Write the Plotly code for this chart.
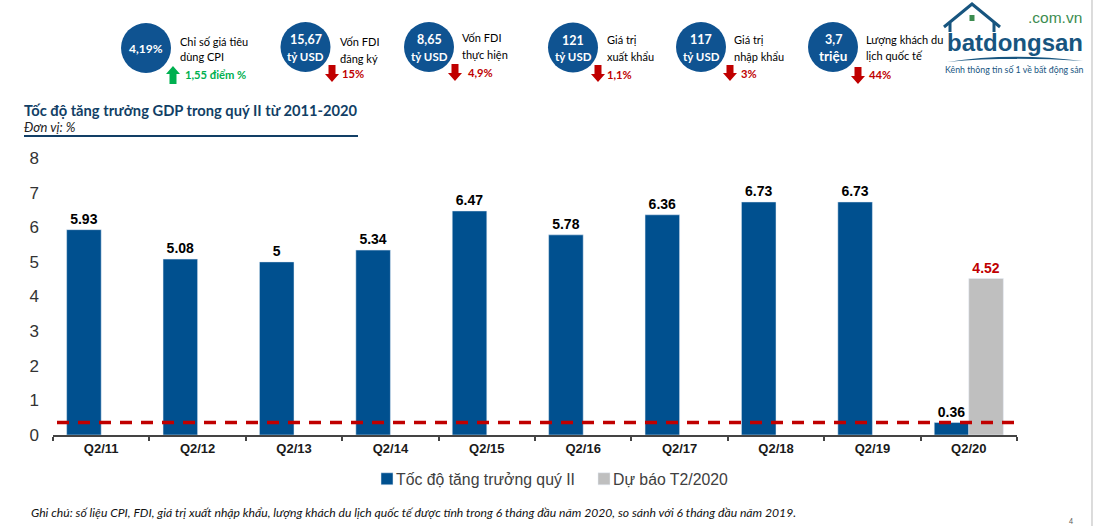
import plotly.graph_objects as go

W, H = 1094, 526
L, R, T, B = 53, 77, 158, 91

# ---- data ----
categories = ["Q2/11", "Q2/12", "Q2/13", "Q2/14", "Q2/15", "Q2/16", "Q2/17", "Q2/18", "Q2/19", "Q2/20"]
growth = [5.93, 5.08, 5, 5.34, 6.47, 5.78, 6.36, 6.73, 6.73, 0.36]
forecast = [None, None, None, None, None, None, None, None, None, 4.52]
reference_level = 0.36
series_names = ["Tốc độ tăng trưởng quý II", "Dự báo T2/2020"]

kpi_values = [["4,19%"], ["15,67", "tỷ USD"], ["8,65", "tỷ USD"], ["121", "tỷ USD"], ["117", "tỷ USD"], ["3,7", "triệu"]]
kpi_labels = [["Chỉ số giá tiêu", "dùng CPI"], ["Vốn FDI", "đăng ký"], ["Vốn FDI", "thực hiện"],
              ["Giá trị", "xuất khẩu"], ["Giá trị", "nhập khẩu"], ["Lượng khách du", "lịch quốc tế"]]
kpi_changes = ["1,55 điểm %", "15%", "4,9%", "1,1%", "3%", "44%"]
kpi_up = [True, False, False, False, False, False]

title_text = "Tốc độ tăng trưởng GDP trong quý II từ 2011-2020"
unit_text = "Đơn vị: %"
note_text = ("Ghi chú: số liệu CPI, FDI, giá trị xuất nhập khẩu, lượng khách du lịch quốc tế được tính "
             "trong 6 tháng đầu năm 2020, so sánh với 6 tháng đầu năm 2019.")

# ---- decorative layout (pixels) ----
circle_xy = [(146, 48), (305.5, 47), (429, 47), (573, 47.5), (701, 47), (833, 47)]
circle_r = 25
label_xy = [(180, 41, 57), (340, 41, 58), (462, 37, 54), (607, 39, 56), (734, 39, 57), (866, 40, 55)]
arrow_xy = [(173, 66, 84), (332, 65, 82), (455, 64, 81), (598, 65, 82), (730, 65, 81), (858, 67, 84)]
change_xy = [(185, 75), (342, 73), (468, 72), (607, 74), (741, 73), (869, 74)]

NAVY = "#0F5391"
BAR = "#00508F"
RED = "#C00000"
GREEN = "#00B050"
SANS = "Lato, 'Noto Sans', sans-serif"


def px(x):
    return (x - L) / (W - L - R)


def py(y):
    return 1 - (y - T) / (H - T - B)


shapes, ann = [], []


def text(x, y, s, size, color="#000000", anchor="left", family=SANS):
    if anchor == "left":
        x -= 2
    ann.append(dict(text=s, x=px(x), y=py(y), xref="paper", yref="paper", xanchor=anchor, yanchor="middle",
                    showarrow=False, font=dict(size=size, color=color, family=family)))


def path(d, fill=None, line=None, width=0):
    shapes.append(dict(type="path", path=d, xref="paper", yref="paper", layer="above",
                       fillcolor=fill if fill else "rgba(0,0,0,0)",
                       line=dict(color=line if line else "rgba(0,0,0,0)", width=width)))


def P(*pts):
    return "M" + " L".join(f"{px(a):.5f},{py(b):.5f}" for a, b in pts)


for i in range(6):
    cx, cy = circle_xy[i]
    shapes.append(dict(type="circle", xref="paper", yref="paper", x0=px(cx - circle_r), x1=px(cx + circle_r),
                       y0=py(cy + circle_r), y1=py(cy - circle_r), fillcolor=NAVY, line=dict(width=0)))
    lines = kpi_values[i]
    if len(lines) == 1:
        text(cx, cy, "<b>" + lines[0] + "</b>", 12, "#FFFFFF", "center")
    else:
        text(cx, cy - 7, "<b>" + lines[0] + "</b>", 12.5, "#FFFFFF", "center")
        text(cx, cy + 9, "<b>" + lines[1] + "</b>", 11.5 if "USD" in lines[1] else 13.5, "#FFFFFF", "center")
    lx, y1, y2 = label_xy[i]
    text(lx, y1, kpi_labels[i][0], 11)
    text(lx, y2, kpi_labels[i][1], 11)
    ax, top, bot = arrow_xy[i]
    colr = GREEN if kpi_up[i] else RED
    if kpi_up[i]:
        mid = top + 8
        path(P((ax, top), (ax + 7, mid), (ax + 3.5, mid), (ax + 3.5, bot), (ax - 3.5, bot), (ax - 3.5, mid), (ax - 7, mid)) + " Z", colr)
    else:
        mid = bot - 8
        path(P((ax, bot), (ax + 7, mid), (ax + 3.5, mid), (ax + 3.5, top), (ax - 3.5, top), (ax - 3.5, mid), (ax - 7, mid)) + " Z", colr)
    text(change_xy[i][0], change_xy[i][1], "<b>" + kpi_changes[i] + "</b>", 11.2, colr)

# heading block
text(24, 110, "<b>" + title_text + "</b>", 14.7, "#123F66")
text(24, 127, "<i>" + unit_text + "</i>", 13, "#222222")
path(P((24, 136), (358, 136)), None, "#123F66", 2)
text(31, 512, "<i>" + note_text + "</i>", 12.17, "#111111")

# logo
LOGO = "#17557F"
LOGO_FONT = "'Liberation Sans', Arial, sans-serif"
path(P((944, 27), (972, 4), (1000, 27)), None, LOGO, 3)
path(P((950, 23), (950, 32)), None, LOGO, 3)
path(P((994, 23), (994, 32)), None, LOGO, 3)
path(P((969.5, 15), (974.5, 15), (974.5, 21), (969.5, 21)) + " Z", "#3C8C50")
text(1084, 17.5, ".com.vn", 15.5, "#3C8C50", "right", LOGO_FONT)
text(1014.5, 42, "<b>batdongsan</b>", 24, LOGO, "center", LOGO_FONT)
path(f"M{px(947):.5f},{py(62):.5f} Q{px(1010):.5f},{py(52):.5f} {px(1083):.5f},{py(61):.5f} "
     f"Q{px(1010):.5f},{py(56):.5f} {px(947):.5f},{py(62):.5f} Z", LOGO)
text(1014.5, 70, "Kênh thông tin số 1 về bất động sản", 8.8, LOGO, "center")

# page edge + page number
path(P((1092, 0), (1092, 526)), None, "#D0D0D0", 1.5)
text(1071, 521, "4", 7, "#555555", "center")

# reference dashed line
shapes.append(dict(type="line", xref="paper", yref="y", x0=px(57), x1=px(1014),
                   y0=reference_level, y1=reference_level, layer="above",
                   line=dict(color=RED, width=3.5, dash="12px 9px")))

fig = go.Figure()
fig.add_bar(name=series_names[0], x=categories, y=growth, marker_color=BAR, texttemplate="<b>%{y}</b>",
            textposition="outside", textfont=dict(size=14, color="#000000", family="'Liberation Sans', Arial"),
            cliponaxis=False)
fig.add_bar(name=series_names[1], x=categories, y=forecast, marker_color="#BFBFBF", texttemplate="<b>%{y}</b>",
            textposition="outside", textfont=dict(size=14, color=RED, family="'Liberation Sans', Arial"),
            cliponaxis=False)

fig.update_layout(
    width=W, height=H, margin=dict(l=L, r=R, t=T, b=B, autoexpand=False), autosize=False,
    paper_bgcolor="white", plot_bgcolor="white", barmode="group", bargap=0.283, bargroupgap=0,
    showlegend=True, shapes=shapes, annotations=ann, hovermode=False,
    font=dict(family="'Liberation Sans', Arial"),
    legend=dict(orientation="h", x=px(356), xanchor="left", y=py(479), yanchor="middle", yref="paper",
                font=dict(size=15.8, color="#404040", family="'Liberation Sans', Arial"), itemwidth=30,
                entrywidth=172, entrywidthmode="pixels", bgcolor="rgba(0,0,0,0)"),
    xaxis=dict(type="category", tickson="boundaries", ticks="outside", ticklen=4, tickwidth=1.5, tickcolor="#444444",
               showline=True, linecolor="#444444", linewidth=2, showgrid=False, zeroline=False,
               tickfont=dict(size=13, color="#1a1a1a", family="'Liberation Sans', Arial", weight="bold")),
    yaxis=dict(range=[0, 8], tick0=0, dtick=1, showgrid=False, zeroline=False, showline=False, ticks="",
               ticklabelstandoff=13, tickfont=dict(size=17, color="#333333", family="'Liberation Sans', Arial")),
)
post = """
document.body.style.margin='0';
document.querySelectorAll('.legend .legendpoints').forEach(function(g){g.setAttribute('transform','translate(11,0)');});
"""
fig.write_html("out.html", post_script=post, config=dict(displayModeBar=False))
